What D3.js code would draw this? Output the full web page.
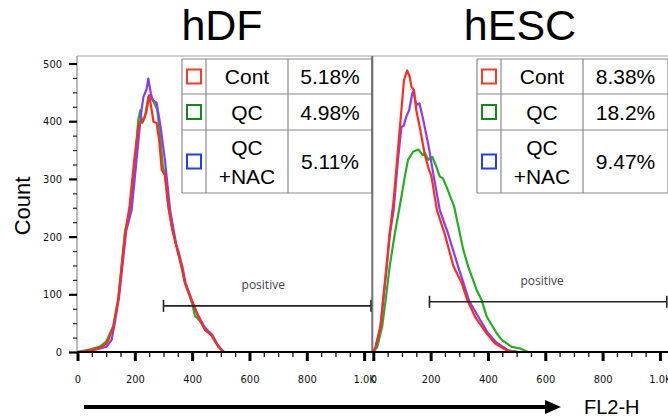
<!DOCTYPE html>
<html><head><meta charset="utf-8">
<script src="https://cdn.jsdelivr.net/npm/d3@7"></script>
<style>
html,body{margin:0;padding:0;background:#fff;}
svg{display:block;}
</style></head>
<body>
<svg id="chart" width="668" height="418"></svg>
<script>
// ---------- DATA ----------
const panels = ["hDF", "hESC"];
const seriesNames = ["Cont", "QC", "QC\n+NAC"];
const hdfPercents = ["5.18%", "4.98%", "5.11%"];
const hescPercents = ["8.38%", "18.2%", "9.47%"];
const xMajorTicks = [0, 200, 400, 600, 800, 1000];
const xTickLabels = ["0", "200", "400", "600", "800", "1.0K"];
const yMajorTicks = [0, 100, 200, 300, 400, 500];
const gateStart = [300, 196];
const gateLevel = [80, 87];

// [FL2-H channel, count]
const hdfCont = [[0,0],[20,1],[40,3],[60,4],[84,9],[100,14],[108,21],[125,44],[142,90],[154,148],[166,205],[181,250],[198,333],[212,390],[218,398],[228,400],[240,415],[250,445],[259,419],[265,399],[276,397],[285,367],[294,315],[305,307],[317,252],[330,214],[348,177],[364,148],[375,119],[398,90],[408,78],[414,70],[430,52],[445,38],[468,29],[491,9],[509,0],[1024,0]];
const hdfQC = [[0,0],[40,4],[80,10],[100,18],[125,45],[142,92],[154,150],[166,210],[184,246],[201,333],[212,402],[219,419],[226,397],[235,407],[247,442],[253,445],[262,438],[270,429],[278,420],[285,390],[298,321],[305,307],[317,252],[330,215],[348,178],[375,120],[400,84],[410,62],[416,60],[430,52],[445,40],[468,28],[491,10],[510,0],[1024,0]];
const hdfNAC = [[0,0],[40,2],[80,6],[101,9],[119,21],[130,50],[145,95],[157,150],[170,210],[189,246],[206,333],[222,414],[230,442],[235,448],[241,455],[247,474],[256,448],[262,436],[270,434],[276,432],[290,390],[305,333],[315,285],[323,246],[336,210],[345,185],[352,175],[365,150],[377,120],[400,88],[420,64],[445,42],[470,30],[492,10],[512,0],[1024,0]];
const hescCont = [[0,0],[8,9],[25,44],[34,90],[46,148],[57,205],[71,263],[83,333],[98,419],[107,471],[118,488],[127,477],[133,460],[142,454],[150,419],[162,390],[179,344],[191,321],[203,304],[222,246],[249,205],[280,148],[309,119],[328,90],[355,61],[396,32],[424,15],[465,3],[500,0],[1024,0]];
const hescQC = [[0,0],[14,9],[31,44],[43,90],[57,148],[75,205],[96,263],[110,304],[121,333],[139,347],[157,351],[173,341],[180,345],[192,333],[206,338],[220,321],[232,304],[243,301],[255,287],[269,269],[282,252],[298,215],[314,177],[331,148],[348,125],[361,107],[378,90],[396,61],[431,32],[448,21],[483,9],[512,6],[541,0],[1024,0]];
const hescNAC = [[0,0],[8,8],[25,44],[35,90],[47,148],[58,205],[71,246],[86,333],[98,390],[106,392],[115,408],[125,419],[136,448],[140,452],[150,428],[161,431],[173,405],[191,362],[211,304],[232,246],[261,205],[296,148],[315,119],[335,88],[370,58],[400,33],[430,16],[470,3],[510,0],[1024,0]];

const curveColors = ["#ff2b1c", "#22b022", "#8b3cf2"];
const legendColors = ["#ff3b1f", "#13891a", "#1f3cff"];

// ---------- LAYOUT ----------
const svg = d3.select("#chart");
const yTop = 56, yBottom = 352;
const y = d3.scaleLinear().domain([0, 500]).range([yBottom, 63.5]);
const xScales = [
  d3.scaleLinear().domain([0, 1024]).range([77.5, 371]),
  d3.scaleLinear().domain([0, 1024]).range([373.3, 666.8])
];
const panelData = [[hdfCont, hdfQC, hdfNAC], [hescCont, hescQC, hescNAC]];
const percents = [hdfPercents, hescPercents];
const tableX = [[182, 206, 288, 372], [477, 501, 583, 668]];
const tableY = [59, 94, 130, 193];
const titleX = [222, 520];
const tickFont = "'DejaVu Sans Condensed','DejaVu Sans',sans-serif";
const mainFont = "'Liberation Sans',Arial,sans-serif";

// top frame line
svg.append("line").attr("x1", 77).attr("x2", 668).attr("y1", yTop).attr("y2", yTop)
  .attr("stroke", "#d0d0d0").attr("stroke-width", 2);

panels.forEach((name, p) => {
  const x = xScales[p];
  const g = svg.append("g");

  g.append("line").attr("x1", x.range()[0] - 0.5).attr("x2", x.range()[0] - 0.5)
    .attr("y1", yTop).attr("y2", yBottom).attr("stroke", "#777").attr("stroke-width", 1);

  svg.append("text").attr("x", titleX[p]).attr("y", 40).attr("text-anchor", "middle")
    .attr("font-family", mainFont).attr("font-size", 43).attr("fill", "#000").text(name);

  const line = d3.line().x(d => x(d[0])).y(d => y(d[1])).curve(d3.curveLinear);
  [1, 2, 0].forEach(i => {
    g.append("path").datum(panelData[p][i]).attr("d", line)
      .attr("fill", "none").attr("stroke", curveColors[i]).attr("stroke-width", 2.2)
      .attr("stroke-linejoin", "round");
  });

  const minor = d3.range(0, 1001, 50).filter(v => v % 200 !== 0);
  const minorAxis = d3.axisBottom(x).tickValues(minor).tickSize(5).tickFormat("");
  const gm = svg.append("g").attr("transform", `translate(0,${yBottom})`).call(minorAxis);
  gm.select(".domain").remove();
  gm.selectAll(".tick line").attr("stroke", "#111").attr("stroke-width", 1.3);

  const majorAxis = d3.axisBottom(x).tickValues(xMajorTicks).tickSize(9).tickPadding(14)
    .tickFormat((d, i) => xTickLabels[i]);
  const ga = svg.append("g").attr("transform", `translate(0,${yBottom})`).call(majorAxis);
  ga.select(".domain").remove();
  ga.selectAll(".tick line").attr("stroke", "#000").attr("stroke-width", 3);
  ga.selectAll(".tick text").attr("font-family", tickFont).attr("font-size", 11)
    .attr("fill", "#111").attr("font-stretch", "condensed");

  const gx1 = x(gateStart[p]), gx2 = x.range()[1], gy = y(gateLevel[p]);
  const gb = svg.append("g").attr("stroke", "#222").attr("stroke-width", 1.6);
  gb.append("line").attr("x1", gx1).attr("x2", gx2).attr("y1", gy).attr("y2", gy);
  gb.append("line").attr("x1", gx1).attr("x2", gx1).attr("y1", gy - 6).attr("y2", gy + 6);
  gb.append("line").attr("x1", gx2).attr("x2", gx2).attr("y1", gy - 6).attr("y2", gy + 6);
  svg.append("text").attr("x", (gx1 + gx2) / 2 + (p === 0 ? -4 : -6)).attr("y", gy - 17)
    .attr("text-anchor", "middle").attr("font-family", "'Open Sans','DejaVu Sans',sans-serif")
    .attr("font-size", 12).attr("fill", "#3b4250").text("positive");

  const tx = tableX[p];
  const tg = svg.append("g");
  tg.append("rect").attr("x", tx[0]).attr("y", tableY[0]).attr("width", tx[3] - tx[0])
    .attr("height", tableY[3] - tableY[0]).attr("fill", "#fff").attr("stroke", "none");
  const bc = "#8a8a8a";
  tx.forEach(xx => tg.append("line").attr("x1", xx).attr("x2", xx).attr("y1", tableY[0]).attr("y2", tableY[3])
    .attr("stroke", bc).attr("stroke-width", 1.2));
  tableY.forEach(yy => tg.append("line").attr("x1", tx[0]).attr("x2", tx[3]).attr("y1", yy).attr("y2", yy)
    .attr("stroke", bc).attr("stroke-width", 1.2));
  seriesNames.forEach((s, i) => {
    const cy = (tableY[i] + tableY[i + 1]) / 2;
    const sq = 14;
    tg.append("rect").attr("x", (tx[0] + tx[1]) / 2 - sq / 2).attr("y", cy - sq / 2)
      .attr("width", sq).attr("height", sq).attr("fill", "none")
      .attr("stroke", legendColors[i]).attr("stroke-width", 2);
    const lines = s.split("\n");
    const cx = (tx[1] + tx[2]) / 2;
    lines.forEach((ln, k) => {
      tg.append("text").attr("x", cx).attr("y", cy + 7.5 + (k - (lines.length - 1) / 2) * 29)
        .attr("text-anchor", "middle").attr("font-family", mainFont).attr("font-size", 21)
        .attr("fill", "#000").text(ln);
    });
    tg.append("text").attr("x", (tx[2] + tx[3]) / 2).attr("y", cy + 7.5)
      .attr("text-anchor", "middle").attr("font-family", mainFont).attr("font-size", 21)
      .attr("fill", "#000").text(percents[p][i]);
  });
});

svg.append("line").attr("x1", 372).attr("x2", 372).attr("y1", yTop).attr("y2", yBottom)
  .attr("stroke", "#555").attr("stroke-width", 1.2);

svg.append("line").attr("x1", 77).attr("x2", 668).attr("y1", yBottom).attr("y2", yBottom)
  .attr("stroke", "#000").attr("stroke-width", 2);

const yMinor = d3.range(0, 501, 25).filter(v => v % 100 !== 0);
const gyMinor = svg.append("g").attr("transform", "translate(77,0)")
  .call(d3.axisLeft(y).tickValues(yMinor).tickSize(4).tickFormat(""));
gyMinor.select(".domain").remove();
gyMinor.selectAll(".tick line").attr("stroke", "#222").attr("stroke-width", 1.2);
const gyMajor = svg.append("g").attr("transform", "translate(77,0)")
  .call(d3.axisLeft(y).tickValues(yMajorTicks).tickSize(8).tickPadding(7));
gyMajor.select(".domain").remove();
gyMajor.selectAll(".tick line").attr("stroke", "#000").attr("stroke-width", 2.2);
gyMajor.selectAll(".tick text").attr("font-family", tickFont).attr("font-size", 11)
  .attr("fill", "#111").attr("font-stretch", "condensed");

svg.append("text").attr("transform", "translate(30,206) rotate(-90)").attr("text-anchor", "middle")
  .attr("font-family", mainFont).attr("font-size", 22).attr("fill", "#000").text("Count");

svg.append("line").attr("x1", 84).attr("x2", 548).attr("y1", 407).attr("y2", 407)
  .attr("stroke", "#000").attr("stroke-width", 4);
svg.append("path").attr("d", "M545,400 L561,407 L545,414 Z").attr("fill", "#000");
svg.append("text").attr("x", 584).attr("y", 414).attr("font-family", mainFont)
  .attr("font-size", 20).attr("fill", "#000").text("FL2-H");
</script>
</body></html>
